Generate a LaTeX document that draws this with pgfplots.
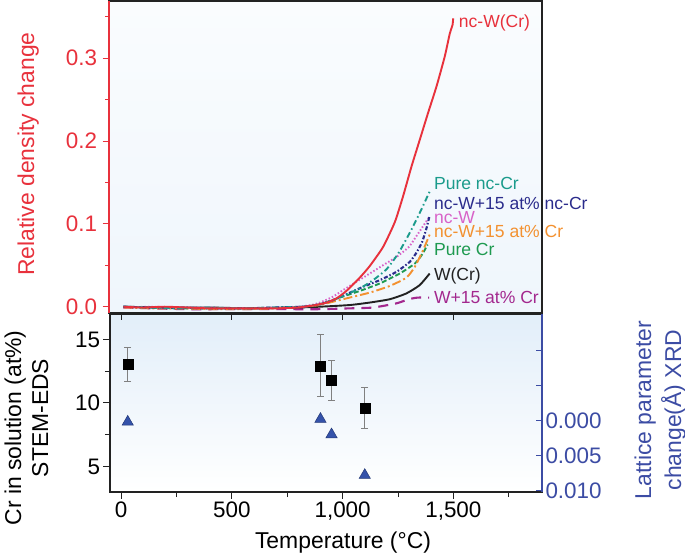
\documentclass[border=0pt]{standalone}
\usepackage{pgfplots}
\pgfplotsset{compat=1.18}
\usepackage{fontspec}
\setmainfont{Liberation Sans}

\definecolor{cRed}{HTML}{E8313C}
\definecolor{cTeal}{HTML}{1B9B8C}
\definecolor{cNavy}{HTML}{2B2C8C}
\definecolor{cPink}{HTML}{D862C8}
\definecolor{cOrange}{HTML}{F39130}
\definecolor{cGreen}{HTML}{1E9A50}
\definecolor{cBlack}{HTML}{222222}
\definecolor{cPurple}{HTML}{A3288E}
\definecolor{cBlue}{HTML}{3C4CA4}
\definecolor{cTri}{HTML}{3452AA}
\definecolor{bgTop}{HTML}{FAFCFE}
\definecolor{bgMid}{HTML}{EFF6FC}
\definecolor{bgLow}{HTML}{E2EEF9}

\newcommand\tickfont{\fontsize{22.5}{26}\selectfont}
\newcommand\labfont{\fontsize{23}{27}\selectfont}
\newcommand\curvefont{\fontsize{17.6}{20}\selectfont}

\pgfplotstableread{
T    c      ep    em
30   13.04  1.31  1.32
900  12.93  2.47  2.44
950  11.80  1.58  1.63
1100 9.62   1.61  1.62
}\eds

\begin{document}
\begin{tikzpicture}
\path[use as bounding box] (0bp,0bp) rectangle (685bp,556bp);

% ---- top panel: relative density change
\begin{axis}[
  at={(109bp,243bp)}, anchor=south west,
  scale only axis, width=433bp, height=312bp,
  xmin=-50, xmax=1900, ymin=-0.0076, ymax=0.369,
  axis background/.style={shade, top color=bgTop, bottom color=bgMid},
  axis line style={cBlack, line width=1.3bp},
  xtick=\empty,
  ytick={0,0.1,0.2,0.3}, yticklabels={0.0,0.1,0.2,0.3},
  minor ytick={0.05,0.15,0.25,0.35},
  ytick pos=left, tick align=outside,
  major tick length=6.5bp, minor tick length=4bp,
  every tick/.style={cRed, line width=1bp},
  yticklabel style={font=\tickfont, text=cRed, xshift=-2bp},
  clip=false,
  every axis plot/.append style={line width=1.9bp, smooth, tension=0.35},
]
\addplot[cPurple, dash pattern=on 10bp off 7bp, line width=2.1bp] coordinates {
(15,-0.001)(150,-0.002)(300,-0.003)(450,-0.003)(600,-0.003)(750,-0.003)(900,-0.003)
(1034,-0.002)(1139,-0.001)(1244,0.004)(1300,0.009)(1340,0.011)(1392,0.011)};
\addplot[cBlack] coordinates {
(15,0.000)(200,-0.001)(400,-0.001)(600,-0.002)(800,-0.001)(900,0.000)(1034,0.002)
(1124,0.005)(1214,0.009)(1289,0.016)(1349,0.026)(1394,0.040)};
\addplot[cGreen, dash pattern=on 5bp off 2.5bp] coordinates {
(15,0.000)(140,-0.001)(280,-0.002)(420,-0.002)(560,-0.002)(700,-0.001)(830,0.000)
(900,0.003)(989,0.011)(1079,0.019)(1169,0.028)(1259,0.040)(1327,0.052)(1360,0.063)(1385,0.075)};
\addplot[cOrange, dash pattern=on 9bp off 3bp on 2bp off 3bp] coordinates {
(15,-0.001)(140,-0.002)(280,-0.002)(420,-0.003)(560,-0.003)(700,-0.002)(830,0.000)
(900,0.002)(944,0.005)(1034,0.011)(1124,0.017)(1214,0.025)(1289,0.035)(1327,0.048)(1364,0.068)(1394,0.087)};
\addplot[cPink, dash pattern=on 1.5bp off 2bp] coordinates {
(15,-0.001)(130,0.000)(260,-0.001)(400,-0.001)(550,-0.002)(700,-0.001)(800,0.000)
(860,0.002)(900,0.005)(958,0.012)(1004,0.020)(1064,0.030)(1124,0.040)(1184,0.050)
(1244,0.060)(1300,0.072)(1334,0.085)(1364,0.097)(1394,0.109)};
\addplot[cNavy, dash pattern=on 4bp off 2bp on 1.5bp off 2bp, line width=2.1bp] coordinates {
(15,0.000)(130,-0.001)(260,-0.001)(400,-0.002)(560,-0.002)(700,-0.001)(830,0.000)
(900,0.003)(960,0.008)(1019,0.015)(1094,0.024)(1169,0.032)(1244,0.042)(1304,0.054)
(1334,0.065)(1360,0.078)(1380,0.095)(1394,0.110)};
\addplot[cTeal, dash pattern=on 6bp off 3bp on 1.5bp off 3bp] coordinates {
(15,0.000)(120,-0.001)(250,-0.002)(400,-0.001)(550,-0.002)(700,-0.001)(820,0.000)
(900,0.003)(950,0.007)(1004,0.013)(1079,0.022)(1139,0.032)(1199,0.045)(1252,0.064)
(1304,0.089)(1349,0.113)(1394,0.139)};
\addplot[cRed] coordinates {
(15,0.000)(100,-0.001)(200,0.000)(300,-0.001)(400,-0.002)(500,-0.002)(600,-0.002)
(700,-0.002)(800,-0.001)(880,0.002)(930,0.005)(974,0.010)(1019,0.019)(1079,0.035)
(1124,0.049)(1184,0.072)(1237,0.102)(1274,0.133)(1312,0.169)(1349,0.201)(1387,0.234)
(1425,0.266)(1462,0.302)(1485,0.330)(1497,0.340)(1500,0.348)};
\draw[cRed, line width=1.3bp] (rel axis cs:0,0) -- (rel axis cs:0,1);
\begin{scope}[every node/.style={anchor=base west, inner sep=0pt, font=\curvefont, yshift=-6.3bp}]
\node[text=cRed]    at (axis cs:1525,0.345) {nc-W(Cr)};
\node[text=cTeal]   at (axis cs:1413,0.149) {Pure nc-Cr};
\node[text=cNavy]   at (axis cs:1413,0.125) {nc-W+15 at\% nc-Cr};
\node[text=cPink]   at (axis cs:1413,0.108) {nc-W};
\node[text=cOrange] at (axis cs:1413,0.091) {nc-W+15 at\% Cr};
\node[text=cGreen]  at (axis cs:1413,0.069) {Pure Cr};
\node[text=cBlack]  at (axis cs:1413,0.0395) {W(Cr)};
\node[text=cPurple] at (axis cs:1413,0.011) {W+15 at\% Cr};
\end{scope}
\end{axis}

% ---- bottom panel: Cr in solution (left axis)
\begin{axis}[
  at={(110bp,64bp)}, anchor=south west,
  scale only axis, width=432bp, height=178bp,
  xmin=-50, xmax=1900, ymin=3, ymax=17,
  axis background/.style={shade, top color=bgLow, bottom color=white},
  axis line style={cBlack, line width=1.3bp},
  xtick={0,500,1000,1500}, xticklabels={0,500,{1,000},{1,500}},
  minor xtick={250,750,1250,1750},
  ytick={5,10,15}, yticklabels={5,10,15}, minor ytick={7.5,12.5},
  xtick pos=left, ytick pos=left, tick align=outside,
  major tick length=6.5bp, minor tick length=5bp,
  every tick/.style={cBlack, line width=1bp},
  ticklabel style={font=\tickfont},
]
\addplot[only marks, mark=none, gray,
  error bars/.cd, y dir=both, y explicit, error mark=none,
  error bar style={gray, line width=1bp}]
  table[x=T, y=c, y error plus=ep, y error minus=em] {\eds};
\addplot[only marks, mark=-, mark size=3.3bp, mark options={gray, line width=1bp}]
  coordinates {(30,14.35)(30,11.72)(900,15.40)(900,10.49)(950,13.38)(950,10.17)(1100,11.23)(1100,8.00)};
\addplot[only marks, mark=square*, mark size=5bp, black] table[x=T, y=c] {\eds};
\end{axis}

% top side ticks of the bottom panel, pointing inward
\begin{axis}[
  at={(110bp,64bp)}, anchor=south west,
  scale only axis, width=432bp, height=178bp,
  xmin=-50, xmax=1900, ymin=0, ymax=1,
  axis y line=none, axis x line*=top,
  x axis line style={-, draw=none},
  xtick={0,500,1000,1500}, xticklabels={}, tick align=inside,
  major tick length=6.5bp,
  every tick/.style={cBlack, line width=1bp},
]
\addplot[draw=none] coordinates {(0,0)};
\end{axis}

% ---- bottom panel: lattice parameter change (right axis)
\begin{axis}[
  at={(110bp,64bp)}, anchor=south west,
  scale only axis, width=432bp, height=178bp,
  xmin=-50, xmax=1900, ymin=-0.0152, ymax=0.0102, y dir=reverse,
  axis x line=none, axis y line*=right,
  y axis line style={-, cBlue, line width=1.3bp},
  scaled y ticks=false,
  ytick={-0.01,-0.005,0,0.005,0.01}, yticklabels={,,0.000,0.005,0.010},
  tick align=inside, major tick length=6.5bp,
  every tick/.style={cBlue, line width=1bp},
  yticklabel style={font=\tickfont, text=cBlue},
]
\addplot[only marks, mark=triangle*, mark size=6.5bp,
  mark options={fill=cTri, draw=cTri!70!black, line width=0.5bp}]
  coordinates {(30,0.0002) (900,-0.0002) (950,0.0020) (1100,0.0078)};
\end{axis}

% ---- axis titles
\node[rotate=90, anchor=base, font=\labfont, text=cRed] at (34bp,402bp) {Relative density change};
\node[rotate=90, anchor=base, font=\labfont] at (21bp,128bp) {Cr in solution (at\%)};
\node[rotate=90, anchor=base, font=\labfont] at (48bp,138bp) {STEM-EDS};
\node[rotate=90, anchor=base, font=\labfont, text=cBlue] at (651bp,146bp) {Lattice parameter};
\node[rotate=90, anchor=base, font=\labfont, text=cBlue] at (681bp,146bp) {change(Å) XRD};
\node[anchor=base, font=\labfont] at (343bp,8bp) {Temperature (°C)};
\end{tikzpicture}
\end{document}
